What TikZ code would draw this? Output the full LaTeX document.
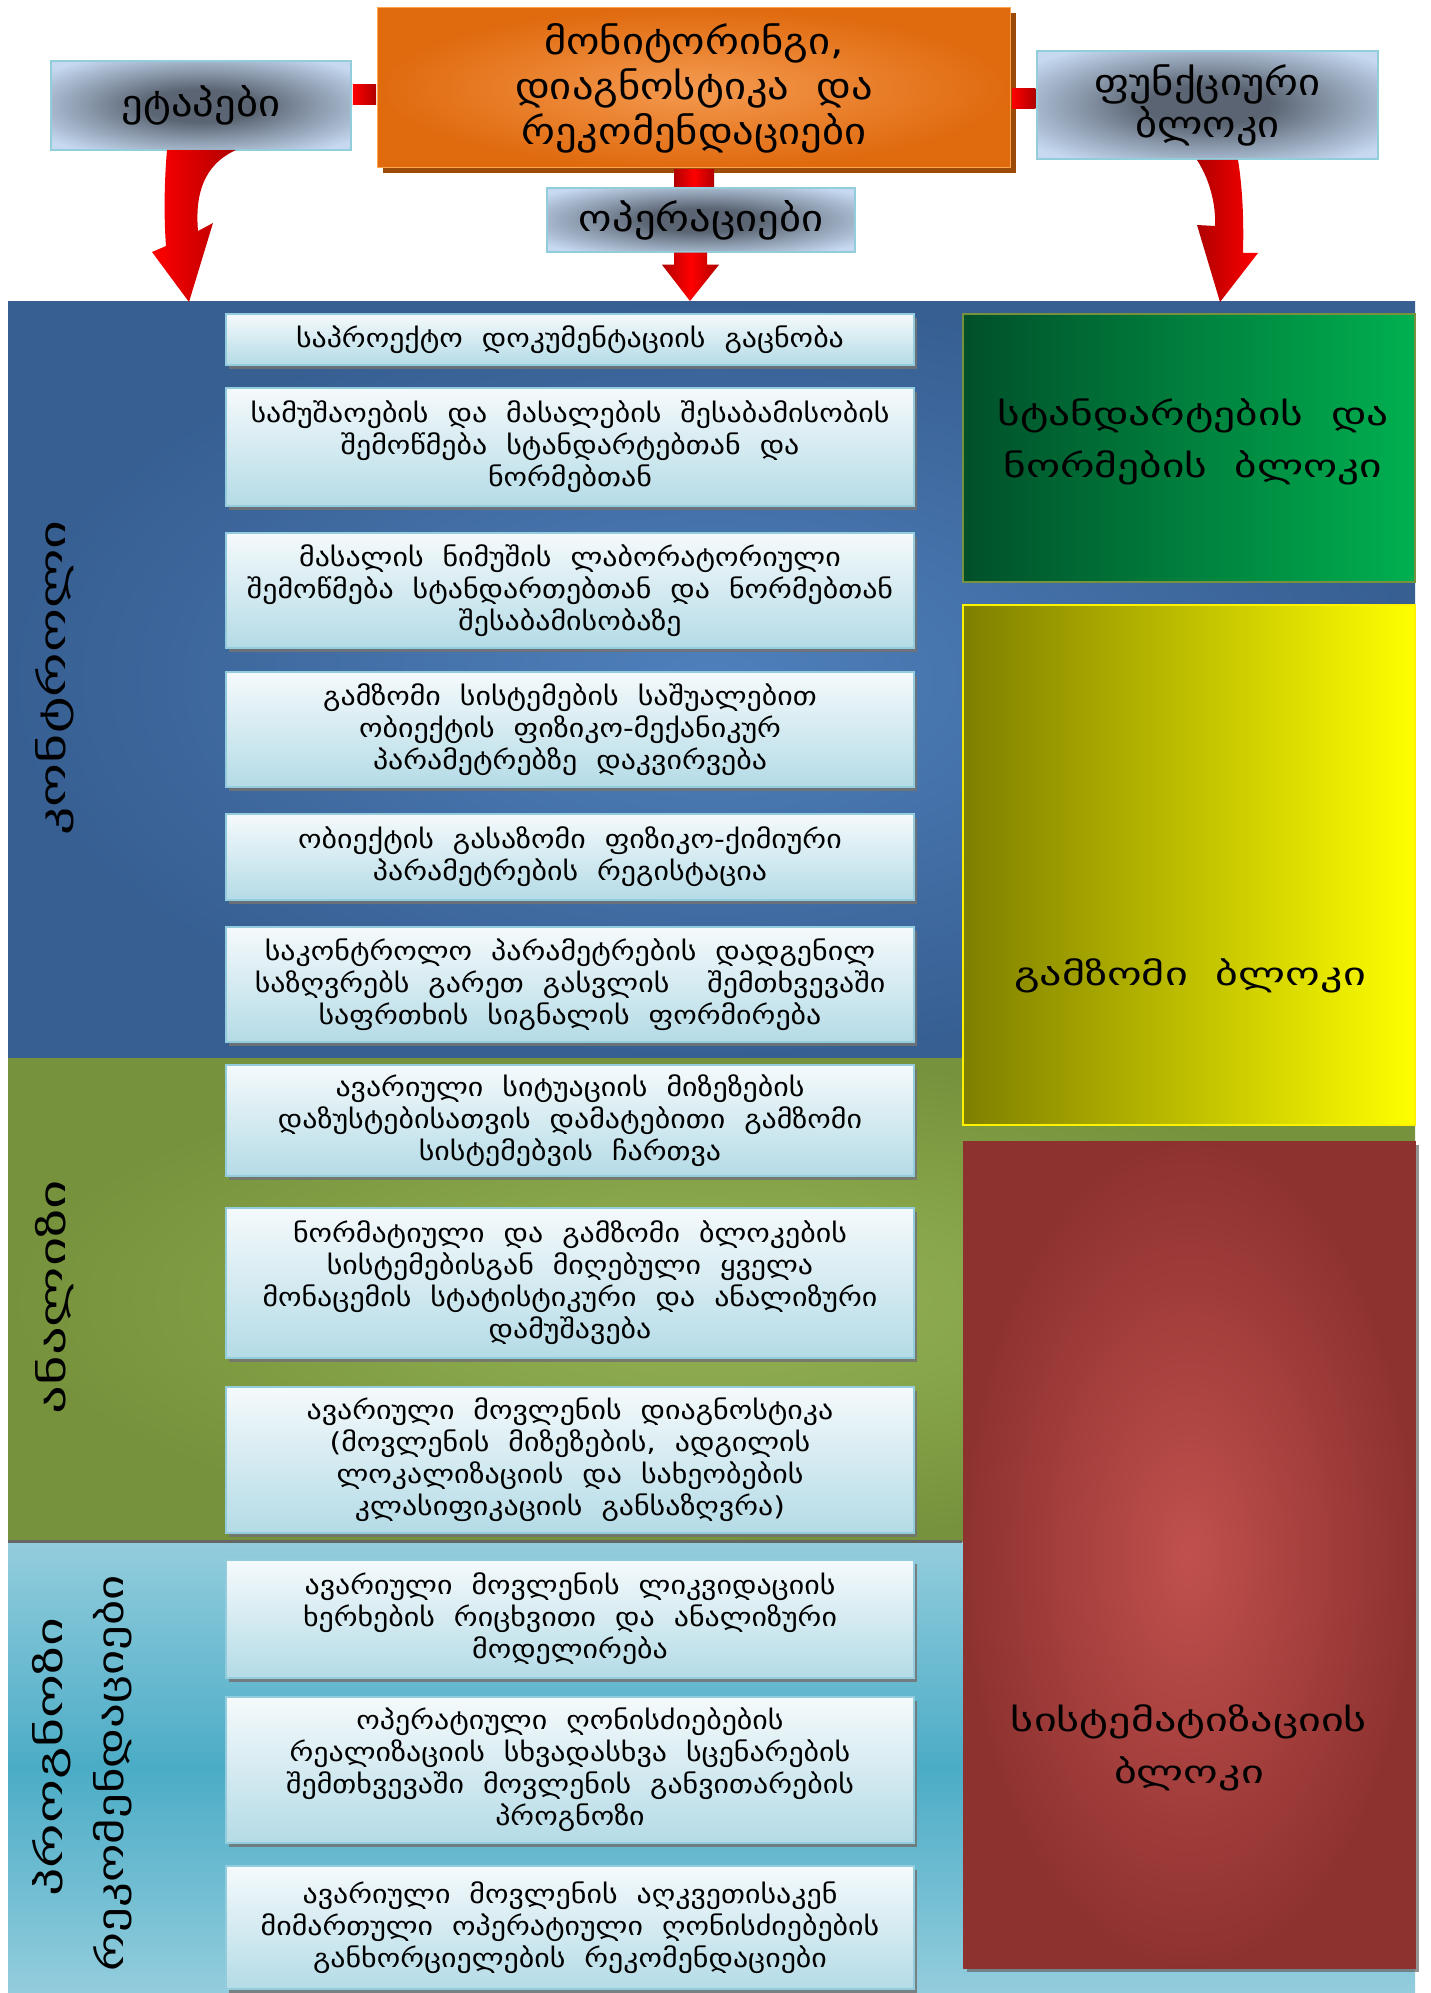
\documentclass[tikz,border=0pt]{standalone}
\usepackage{fontspec}
\setmainfont[WordSpace=2, FakeStretch=1.15]{DejaVu Sans}
\usetikzlibrary{shadows,calc}
\definecolor{boxtop}{HTML}{F5FAFC}
\definecolor{boxbot}{HTML}{B4DBE6}
\definecolor{boxborder}{HTML}{93CDDD}
\definecolor{vlight}{HTML}{C6D9F1}
\definecolor{vmid}{HTML}{8E9DB0}
\definecolor{vdark}{HTML}{5A6472}
\definecolor{sideborder}{HTML}{92CDDC}
\definecolor{orin}{HTML}{F49A50}
\definecolor{orout}{HTML}{E06A0E}
\definecolor{orshadow}{HTML}{9C4A08}
\definecolor{bluein}{HTML}{4F80BC}
\definecolor{blueout}{HTML}{375F92}
\definecolor{greenin}{HTML}{95B454}
\definecolor{greenout}{HTML}{76923C}
\definecolor{cyanmid}{HTML}{4BACC6}
\definecolor{cyanedge}{HTML}{93CDDD}
\definecolor{dkgreen}{HTML}{00502A}
\definecolor{ltgreen}{HTML}{00B050}
\definecolor{dkyellow}{HTML}{7F7F00}
\definecolor{redin}{HTML}{C0504D}
\definecolor{redout}{HTML}{8E3230}
\definecolor{arrred}{HTML}{FF0000}
\definecolor{arrdark}{HTML}{B00000}
\pgfdeclareradialshading{vign}{\pgfpoint{0bp}{0bp}}{color(0bp)=(vdark); color(9bp)=(vdark); color(20bp)=(vmid); color(32bp)=(vlight); color(50bp)=(vlight)}
\tikzset{
  opbox/.style={draw=boxborder, line width=2pt, top color=boxtop, bottom color=boxbot,
    minimum width=688pt, align=center, inner sep=0pt,
    font=\fontsize{26}{32}\selectfont,
    drop shadow={shadow xshift=3pt, shadow yshift=-4pt, fill=black!55, opacity=.85}},
  sidebox/.style={draw=sideborder, line width=1.5pt, shade, shading=vign, align=center,
    inner sep=0pt, font=\fontsize{37}{42}\selectfont},
  blocktext/.style={align=center, font=\fontsize{32}{52}\selectfont},
  vlabel/.style={rotate=90, font=\fontsize{36}{44}\selectfont},
  conn/.style={left color=arrdark, right color=arrdark, middle color=arrred}
}
\begin{document}
\begin{tikzpicture}[x=1pt,y=-1pt]
\useasboundingbox (0,0) rectangle (1430,1993);
\fill[white] (0,0) rectangle (1430,1993);
% panels
\shade[inner color=bluein, outer color=blueout] (8,301) rectangle (1415,1058);
\shade[inner color=greenin, outer color=greenout] (8,1058) rectangle (1415,1542);
\shade[top color=cyanedge, bottom color=cyanedge, middle color=cyanmid] (8,1542) rectangle (1415,1993);
\fill[black!60] (8,1540) rectangle (962,1543);
% top nodes
\node[draw=orange!70, line width=1pt, inner color=orin, outer color=orout,
  minimum width=633pt, minimum height=160pt, align=center, inner sep=0pt,
  font=\fontsize{37}{45}\selectfont,
  drop shadow={shadow xshift=5pt, shadow yshift=-5pt, fill=orshadow, opacity=1}]
  (title) at (694,88) {მონიტორინგი,\\დიაგნოსტიკა და\\რეკომენდაციები};
\node[sidebox, minimum width=300pt, minimum height=89pt] (etap) at (201,105.5) {ეტაპები};
\node[sidebox, minimum width=341pt, minimum height=108pt] (func) at (1207.5,105) {ფუნქციური\\ბლოკი};
\node[sidebox, minimum width=308pt, minimum height=64pt] (oper) at (701,220) {ოპერაციები};
% straight connectors
\shade[left color=arrred, right color=arrdark] ($(etap.east)+(1,-21)$) rectangle ($(title.west)+(-1,17)$);
\shade[left color=arrred, right color=arrdark] ($(title.east)+(1,1)$) rectangle ($(func.west)+(-1,4)$);
\shade[conn] ($(title.south)+(-20,1)$) rectangle ($(oper.north)+(13,-1)$);
\shade[conn] ($(oper.south)+(-27,0)$) -- ($(oper.south)+(-27,12)$) -- ($(oper.south)+(-39,12)$)
  -- (690,301) coordinate (optip) -- ($(oper.south)+(18,12)$) -- ($(oper.south)+(6,12)$) -- ($(oper.south)+(6,0)$) -- cycle;
% curved arrows
\shade[left color=arrred, right color=arrdark]
  (167,150) .. controls (164,185) and (164,220) .. (166,246) -- (152,252) -- (189,302)
  -- (213,223) -- (198,231) .. controls (195,195) and (203,165) .. (236,150) -- cycle;
\shade[left color=arrdark, right color=arrred]
  (1197,160) .. controls (1210,180) and (1216,205) .. (1215,226) -- (1197,225) -- (1220,302)
  -- (1258,253) -- (1243,253) .. controls (1244,215) and (1242,185) .. (1238,160) -- cycle;
% operation boxes
\node[opbox, minimum height=51pt] (b1) at (570,339.5) {საპროექტო დოკუმენტაციის გაცნობა};
\node[opbox, minimum height=118pt] (b2) at (570,447) {სამუშაოების და მასალების შესაბამისობის\\შემოწმება სტანდარტებთან და\\ნორმებთან};
\node[opbox, minimum height=115pt] (b3) at (570,590.5) {მასალის ნიმუშის ლაბორატორიული\\შემოწმება სტანდართებთან და ნორმებთან\\შესაბამისობაზე};
\node[opbox, minimum height=115pt] (b4) at (570,729.5) {გამზომი სისტემების საშუალებით\\ობიექტის ფიზიკო-მექანიკურ\\პარამეტრებზე დაკვირვება};
\node[opbox, minimum height=86pt] (b5) at (570,857) {ობიექტის გასაზომი ფიზიკო-ქიმიური\\პარამეტრების რეგისტაცია};
\node[opbox, minimum height=115pt] (b6) at (570,984.5) {საკონტროლო პარამეტრების დადგენილ\\საზღვრებს გარეთ გასვლის \ შემთხვევაში\\საფრთხის სიგნალის ფორმირება};
\node[opbox, minimum height=111pt] (b7) at (570,1120.5) {ავარიული სიტუაციის მიზეზების\\დაზუსტებისათვის დამატებითი გამზომი\\სისტემებვის ჩართვა};
\node[opbox, minimum height=150pt] (b8) at (570,1283) {ნორმატიული და გამზომი ბლოკების\\სისტემებისგან მიღებული ყველა\\მონაცემის სტატისტიკური და ანალიზური\\დამუშავება};
\node[opbox, minimum height=146pt] (b9) at (570,1460) {ავარიული მოვლენის დიაგნოსტიკა\\(მოვლენის მიზეზების, ადგილის\\ლოკალიზაციის და სახეობების\\კლასიფიკაციის განსაზღვრა)};
\node[opbox, minimum height=118pt] (b10) at (570,1619) {ავარიული მოვლენის ლიკვიდაციის\\ხერხების რიცხვითი და ანალიზური\\მოდელირება};
\node[opbox, minimum height=146pt] (b11) at (570,1770) {ოპერატიული ღონისძიებების\\რეალიზაციის სხვადასხვა სცენარების\\შემთხვევაში მოვლენის განვითარების\\პროგნოზი};
\node[opbox, minimum height=123pt] (b12) at (570,1927.5) {ავარიული მოვლენის აღკვეთისაკენ\\მიმართული ოპერატიული ღონისძიებების\\განხორციელების რეკომენდაციები};
% functional blocks
\node[draw=greenout, line width=1.5pt, left color=dkgreen, right color=ltgreen,
  minimum width=452pt, minimum height=268pt, inner sep=0pt] (gblk) at (1189,448) {};
\node[draw=yellow, line width=1.5pt, left color=dkyellow, right color=yellow,
  minimum width=452pt, minimum height=520pt, inner sep=0pt] (yblk) at (1189,865) {};
\node[draw=redout, line width=1pt, inner color=redin, outer color=redout,
  minimum width=452pt, minimum height=827pt, inner sep=0pt,
  drop shadow={shadow xshift=4pt, shadow yshift=-4pt, fill=black!60, opacity=.7}] (rblk) at (1189,1554.5) {};
\node[blocktext] (gtxt) at (1193,442) {\scalebox{1.18}[1]{სტანდარტების და}\\\scalebox{1.18}[1]{ნორმების ბლოკი}};
\node[blocktext] (ytxt) at (1190,976) {\scalebox{1.2}[1]{გამზომი ბლოკი}};
\node[blocktext] (rtxt) at (1189,1748) {\scalebox{1.2}[1]{სისტემატიზაციის}\\\scalebox{1.2}[1]{ბლოკი}};
% stage labels
\node[vlabel] (lctrl) at (55,678) {\scalebox{1.35}[1]{კონტროლი}};
\node[vlabel] (lanal) at (55,1297) {\scalebox{1.37}[1]{ანალიზი}};
\node[vlabel] (lprog) at (52,1757) {\scalebox{1.35}[1]{პროგნოზი}};
\node[vlabel] (lrec) at (113,1773) {\scalebox{1.18}[1]{რეკომენდაციები}};
\end{tikzpicture}
\end{document}
